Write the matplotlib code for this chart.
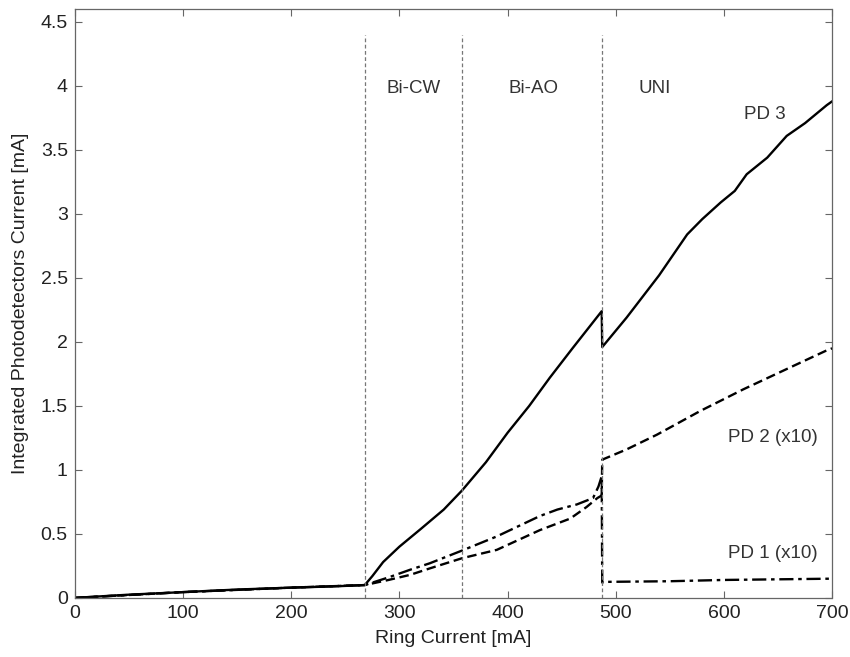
import numpy as np
import matplotlib
matplotlib.use("Agg")
import matplotlib.pyplot as plt

plt.rcParams['font.family'] = ['Liberation Sans', 'DejaVu Sans']

# PD 3 (solid)
pd3_x = [0, 50, 100, 150, 200, 240, 268, 275, 285, 300, 320, 341, 358, 380, 400, 420,
         439, 460, 487, 487.5, 510, 540, 566, 580, 597, 610, 621, 640, 658, 675, 695, 700]
pd3_y = [0, 0.025, 0.045, 0.065, 0.08, 0.09, 0.10, 0.17, 0.28, 0.40, 0.54, 0.69, 0.84, 1.06, 1.29, 1.50,
         1.72, 1.95, 2.24, 1.96, 2.19, 2.52, 2.84, 2.96, 3.09, 3.18, 3.31, 3.44, 3.61, 3.71, 3.85, 3.88]

# PD 2 x10 (dashed)
pd2_x = [0, 100, 200, 268, 290, 310, 328, 358, 390, 430, 458, 473, 483, 487, 487.5, 510, 538, 578, 618, 661, 694, 700]
pd2_y = [0, 0.045, 0.08, 0.10, 0.14, 0.18, 0.23, 0.31, 0.375, 0.53, 0.62, 0.71, 0.78, 0.80, 1.08, 1.16, 1.275, 1.46, 1.63, 1.80, 1.93, 1.95]

# PD 1 x10 (dash-dot)
pd1_x = [0, 100, 200, 268, 290, 310, 328, 358, 390, 430, 446, 464, 479, 484, 487, 487.5, 490, 550, 600, 650, 700]
pd1_y = [0, 0.045, 0.08, 0.10, 0.16, 0.22, 0.27, 0.37, 0.48, 0.64, 0.69, 0.73, 0.78, 0.87, 0.95, 0.12, 0.125, 0.13, 0.14, 0.145, 0.15]

regions = [268, 358, 487]
region_labels = ["Bi-CW", "Bi-AO", "UNI"]
region_label_x = [313, 424, 536]

fig = plt.figure(figsize=(8.5, 6.57), dpi=100)
ax = fig.add_axes([0.088, 0.09, 0.891, 0.896])

ax.plot(pd3_x, pd3_y, color="black", lw=1.7, ls="-")
ax.plot(pd2_x, pd2_y, color="black", lw=1.7, ls=(0, (4, 2)))
ax.plot(pd1_x, pd1_y, color="black", lw=1.7, ls=(0, (6, 2, 1.5, 2)))

for xv in regions:
    ax.plot([xv, xv], [0, 4.4], color="#777777", lw=0.9, ls=(0, (3, 2)))
for xl, t in zip(region_label_x, region_labels):
    ax.text(xl, 3.98, t, ha="center", va="center", fontsize=13.5, color="#333333")

ax.text(638, 3.78, "PD 3", ha="center", va="center", fontsize=13.5, color="#333333")
ax.text(645, 1.25, "PD 2 (x10)", ha="center", va="center", fontsize=13.5, color="#333333")
ax.text(645, 0.35, "PD 1 (x10)", ha="center", va="center", fontsize=13.5, color="#333333")

ax.set_xlim(0, 700)
ax.set_ylim(0, 4.6)
ax.set_xticks(np.arange(0, 701, 100))
ax.set_yticks(np.arange(0, 4.51, 0.5))
ax.set_yticklabels(["0", "0.5", "1", "1.5", "2", "2.5", "3", "3.5", "4", "4.5"])
ax.tick_params(direction="in", top=True, right=True, length=5, width=0.8,
               color="#666666", labelsize=14, labelcolor="#222222", pad=5)
for s in ax.spines.values():
    s.set_linestyle((0, (2, 1)))
    s.set_color("#666666")
    s.set_linewidth(0.9)

ax.set_xlabel("Ring Current [mA]", fontsize=14, color="#222222", labelpad=6)
ax.set_ylabel("Integrated Photodetectors Current [mA]", fontsize=14, color="#222222", labelpad=8)

fig.savefig("out.png", dpi=100)
